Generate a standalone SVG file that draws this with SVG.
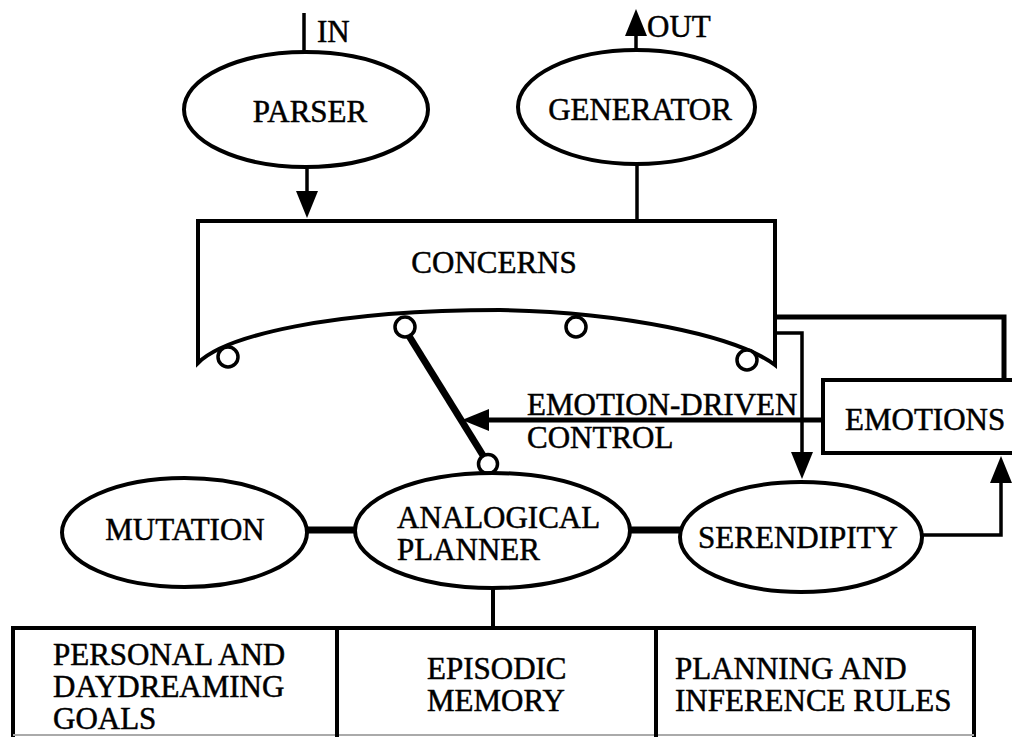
<svg xmlns="http://www.w3.org/2000/svg" width="1012" height="737" viewBox="0 0 1012 737">
  <style>
    .lbl { font-family: "Liberation Serif", "Times New Roman", serif; font-size: 31px; fill: #000; stroke: #000; stroke-width: 0.5px; }
    .mid { text-anchor: middle; }
    .shape { fill: #fff; stroke: #000; stroke-width: 4; }
    .line { fill: none; stroke: #000; stroke-width: 3.5; }
    .thick { fill: none; stroke: #000; stroke-width: 7; }
    .med { fill: none; stroke: #000; stroke-width: 5; }
    .port { fill: #fff; stroke: #000; stroke-width: 3.5; }
    .head { fill: #000; stroke: none; }
  </style>
  <defs>
    <marker id="arrow" markerUnits="userSpaceOnUse" markerWidth="30" markerHeight="24" refX="0" refY="11" orient="auto" overflow="visible">
      <path class="head" d="M0,0 L27,11 L0,22 Z"/>
    </marker>
  </defs>
  <rect width="1012" height="737" fill="#fff"/>

  <!-- connectors -->
  <g id="connectors">
    <path class="line" d="M304,13 V52"/>
    <text class="lbl" x="317" y="42">IN</text>
    <path class="line" d="M636,50 V36" marker-end="url(#arrow)"/>
    <text class="lbl" x="647" y="37">OUT</text>
    <path class="line" d="M307,167 V191" marker-end="url(#arrow)"/>
    <path class="line" d="M637,163 V221"/>
    <!-- concerns to emotions -->
    <path class="med" d="M775,317 H1004 V380"/>
    <!-- concerns to serendipity -->
    <path class="line" d="M775,333 H802 V452" marker-end="url(#arrow)"/>
    <!-- emotion-driven control -->
    <path class="med" d="M823,420 H489" marker-end="url(#arrow)"/>
    <text class="lbl" x="527" y="415">EMOTION-DRIVEN</text>
    <text class="lbl" x="527" y="448">CONTROL</text>
    <!-- serendipity to emotions -->
    <path class="line" d="M922,535 H1001 V483" marker-end="url(#arrow)"/>
    <!-- concern selection link -->
    <path class="thick" d="M409,336 L484,457"/>
    <circle class="port" cx="488" cy="464" r="9.5"/>
    <!-- planner links -->
    <path class="thick" d="M306,530 H356"/>
    <path class="thick" d="M629,530 H681"/>
    <path class="line" d="M493,588 V628" style="stroke-width:4"/>
  </g>

  <g id="parser">
    <ellipse class="shape" cx="306" cy="109.5" rx="122" ry="57.5"/>
    <text class="lbl mid" x="310" y="122">PARSER</text>
  </g>

  <g id="generator">
    <ellipse class="shape" cx="636.5" cy="107" rx="118.5" ry="57"/>
    <text class="lbl mid" x="640" y="120">GENERATOR</text>
  </g>

  <g id="concerns">
    <path class="shape" d="M198,363 V221 H775 V365 C735,335 620,312 500,310 C330,310 225,336 198,363 Z"/>
    <text class="lbl mid" x="494" y="273">CONCERNS</text>
    <circle class="port" cx="228" cy="357" r="10"/>
    <circle class="port" cx="405" cy="327" r="10"/>
    <circle class="port" cx="576" cy="327" r="10"/>
    <circle class="port" cx="747" cy="360" r="10"/>
  </g>

  <g id="emotions">
    <rect class="shape" x="823" y="380" width="200" height="73"/>
    <text class="lbl" x="845" y="430">EMOTIONS</text>
  </g>

  <g id="mutation">
    <ellipse class="shape" cx="184.5" cy="532.5" rx="122.5" ry="54.5"/>
    <text class="lbl mid" x="185" y="540">MUTATION</text>
  </g>

  <g id="planner">
    <ellipse class="shape" cx="492.5" cy="530.5" rx="137.5" ry="57.5"/>
    <text class="lbl" x="397" y="528">ANALOGICAL</text>
    <text class="lbl" x="397" y="560">PLANNER</text>
  </g>

  <g id="serendipity">
    <ellipse class="shape" cx="801" cy="537" rx="121" ry="55"/>
    <text class="lbl mid" x="798" y="548">SERENDIPITY</text>
  </g>

  <g id="memory">
    <path class="shape" d="M13,745 V628 H974 V745"/>
    <path d="M13,735 H974" stroke="#aaa" stroke-width="2" fill="none"/>
    <g id="goals">
      <text class="lbl" x="53" y="665">PERSONAL AND</text>
      <text class="lbl" x="53" y="697">DAYDREAMING</text>
      <text class="lbl" x="53" y="729">GOALS</text>
    </g>
    <g id="episodic">
      <path class="line" d="M337,628 V737" style="stroke-width:4"/>
      <text class="lbl" x="427" y="679">EPISODIC</text>
      <text class="lbl" x="427" y="711">MEMORY</text>
    </g>
    <g id="rules">
      <path class="line" d="M656,628 V737" style="stroke-width:4"/>
      <text class="lbl" x="675" y="679">PLANNING AND</text>
      <text class="lbl" x="675" y="711">INFERENCE RULES</text>
    </g>
  </g>
</svg>
